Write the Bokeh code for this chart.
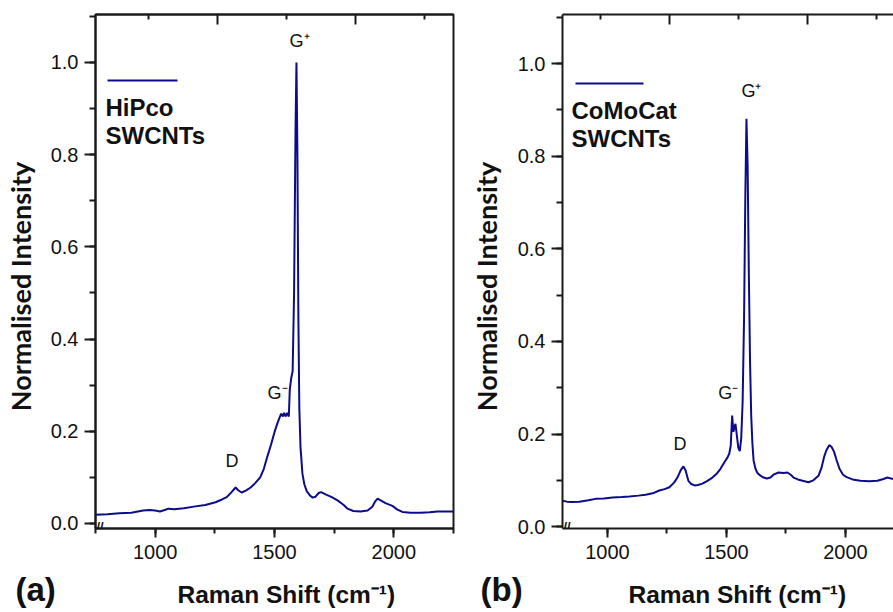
import math
from bokeh.plotting import figure
from bokeh.layouts import row, column
from bokeh.models import (Range1d, LinearAxis, SingleIntervalTicker, FixedTicker,
                          NumeralTickFormatter, Label, BoxAnnotation, CustomJSTickFormatter)
from bokeh.embed import file_html
from bokeh.resources import INLINE

# ---------------- data ----------------
hipco_shift = [750, 800, 850, 900, 950, 975, 1000, 1020, 1040, 1056, 1080, 1120, 1169, 1210,
               1253, 1280, 1300, 1320, 1337, 1348, 1362, 1380, 1400, 1420, 1440, 1455, 1470,
               1485, 1500, 1512, 1520, 1528, 1535, 1540, 1547, 1553, 1560, 1564, 1570, 1576,
               1582, 1588, 1592, 1596, 1600, 1604, 1609, 1617, 1625, 1635, 1650, 1660, 1672,
               1685, 1695, 1714, 1740, 1764, 1790, 1806, 1830, 1860, 1890, 1910, 1922, 1932,
               1945, 1965, 1994, 2015, 2036, 2070, 2112, 2150, 2183, 2250]
hipco_int = [0.019, 0.020, 0.022, 0.023, 0.028, 0.029, 0.028, 0.026, 0.029, 0.032, 0.031, 0.033,
             0.037, 0.040, 0.046, 0.052, 0.057, 0.068, 0.078, 0.072, 0.067, 0.071, 0.078, 0.088,
             0.100, 0.118, 0.145, 0.170, 0.198, 0.217, 0.228, 0.238, 0.232, 0.240, 0.232, 0.240,
             0.232, 0.290, 0.315, 0.330, 0.500, 0.850, 1.000, 0.800, 0.450, 0.250, 0.165, 0.108,
             0.085, 0.070, 0.060, 0.056, 0.058, 0.066, 0.068, 0.063, 0.057, 0.050, 0.040, 0.032,
             0.027, 0.026, 0.028, 0.036, 0.048, 0.054, 0.050, 0.044, 0.038, 0.030, 0.025, 0.023,
             0.023, 0.024, 0.026, 0.026]

comocat_shift = [811, 830, 850, 882, 920, 950, 985, 1021, 1060, 1092, 1130, 1160, 1190, 1218,
                 1240, 1260, 1280, 1294, 1308, 1319, 1328, 1340, 1352, 1366, 1380, 1399, 1420,
                 1441, 1460, 1475, 1490, 1504, 1512, 1518, 1524, 1529, 1534, 1538, 1543, 1550,
                 1556, 1562, 1568, 1574, 1579, 1584, 1589, 1594, 1599, 1604, 1609, 1614, 1622,
                 1630, 1643, 1656, 1670, 1685, 1700, 1719, 1740, 1756, 1770, 1782, 1800, 1820,
                 1845, 1865, 1887, 1900, 1910, 1920, 1932, 1942, 1952, 1962, 1975, 1990, 2005,
                 2030, 2063, 2100, 2134, 2160, 2176, 2200]
comocat_int = [0.056, 0.054, 0.053, 0.054, 0.057, 0.060, 0.061, 0.063, 0.064, 0.065, 0.067, 0.069,
               0.072, 0.078, 0.081, 0.085, 0.095, 0.106, 0.122, 0.130, 0.122, 0.099, 0.092, 0.089,
               0.090, 0.093, 0.099, 0.106, 0.115, 0.125, 0.138, 0.149, 0.158, 0.175, 0.240, 0.205,
               0.215, 0.222, 0.200, 0.170, 0.163, 0.190, 0.270, 0.450, 0.700, 0.881, 0.780, 0.550,
               0.360, 0.240, 0.180, 0.143, 0.125, 0.116, 0.110, 0.106, 0.104, 0.106, 0.113, 0.117,
               0.116, 0.117, 0.112, 0.106, 0.102, 0.099, 0.096, 0.100, 0.110, 0.128, 0.150, 0.165,
               0.176, 0.172, 0.162, 0.145, 0.125, 0.112, 0.107, 0.102, 0.099, 0.098, 0.099, 0.103,
               0.106, 0.103]

top_major_ticks = [1260, 1840]
top_minor_ticks = [970, 1550, 2130]

LINE = "#0c0c8a"
AX = "#1a1a1a"
TXT = "#111111"
SANS = "Liberation Sans"
X_TITLE = "Raman Shift (cm⁻¹)"
Y_TITLE = "Normalised Intensity"

PLOT_H = 570
BAND_H = 612 - PLOT_H
FRAME_TOP, FRAME_BOTTOM = 14, 528


def make_panel(width, border_left, border_right, xr, yr, xs, ys, outline):
    p = figure(width=width, height=PLOT_H, output_backend="svg", toolbar_location=None,
               x_range=Range1d(*xr), y_range=Range1d(*yr),
               min_border_left=border_left, min_border_right=border_right,
               min_border_top=FRAME_TOP, min_border_bottom=PLOT_H - FRAME_BOTTOM,
               x_axis_location=None, y_axis_location=None)
    p.grid.visible = False
    p.outline_line_color = AX if outline else None
    p.outline_line_width = 2
    p.border_fill_color = "white"

    bottom = LinearAxis(ticker=SingleIntervalTicker(interval=500, num_minor_ticks=2))
    left = LinearAxis(ticker=SingleIntervalTicker(interval=0.2, num_minor_ticks=2),
                      formatter=NumeralTickFormatter(format="0.0"))
    top = LinearAxis(ticker=FixedTicker(ticks=top_major_ticks, minor_ticks=top_minor_ticks),
                     formatter=CustomJSTickFormatter(code="return ''"))
    for ax in (bottom, left, top):
        ax.axis_line_color = AX
        ax.axis_line_width = 2
        ax.major_tick_line_color = AX
        ax.minor_tick_line_color = AX
        ax.major_tick_line_width = 2
        ax.minor_tick_line_width = 2
        ax.major_label_text_font = SANS
        ax.major_label_text_font_size = "20px"
        ax.major_label_text_color = TXT
    bottom.major_tick_in = 0
    bottom.major_tick_out = 9
    bottom.minor_tick_in = 0
    bottom.minor_tick_out = 5
    bottom.major_label_standoff = 7
    left.major_tick_in = 0
    left.major_tick_out = 11
    left.minor_tick_in = 0
    left.minor_tick_out = 6
    left.major_label_standoff = 6
    top.major_tick_in = 10
    top.major_tick_out = 0
    top.minor_tick_in = 5
    top.minor_tick_out = 0
    top.major_label_standoff = 0
    top.major_label_text_font_size = "1px"
    p.add_layout(bottom, "below")
    p.add_layout(left, "left")
    p.add_layout(top, "above")

    p.line(xs, ys, line_color=LINE, line_width=2)
    return p


def blank(width, height, xr, yr):
    f = figure(width=width, height=height, output_backend="svg", toolbar_location=None,
               x_range=Range1d(*xr), y_range=Range1d(*yr),
               min_border=0, min_border_left=0, min_border_right=0,
               min_border_top=0, min_border_bottom=0,
               x_axis_location=None, y_axis_location=None)
    f.grid.visible = False
    f.outline_line_color = None
    return f


def lab(p, x, y, text, size, bold=False, units="screen", align="left", baseline="alphabetic",
        angle=0.0, font=SANS):
    p.add_layout(Label(x=x, y=y, x_units=units, y_units=units, text=text,
                       text_font=font, text_font_size=f"{size}px",
                       text_font_style="bold" if bold else "normal",
                       text_color=TXT, text_align=align, text_baseline=baseline,
                       angle=angle))


def legend_line(p, x0, x1, y):
    p.add_layout(BoxAnnotation(left=x0, right=x1, bottom=y - 1, top=y + 1,
                               left_units="screen", right_units="screen",
                               bottom_units="screen", top_units="screen",
                               fill_color=LINE, fill_alpha=1, line_color=None))


# ---------------- panel (a) ----------------
pa = make_panel(416, 51, 7, (750, 2250), (-0.011, 1.104), hipco_shift, hipco_int, True)
legend_line(pa, 12, 82, 448)
lab(pa, 10, 421, "HiPco", 24, bold=True)
lab(pa, 10, 393, "SWCNTs", 24, bold=True)
lab(pa, 1295, 0.136, "D", 18, units="data")
lab(pa, 1471, 0.284, "G⁻", 18, units="data")
lab(pa, 1563, 1.047, "G⁺", 18, units="data")
lab(pa, 1, 2, "//", 13, bold=True)

# ---------------- panel (b) ----------------
pb = make_panel(383, 52, 0, (811, 2202), (-0.004, 1.106), comocat_shift, comocat_int, False)
legend_line(pb, 13, 81, 445)
lab(pb, 9, 418, "CoMoCat", 24, bold=True)
lab(pb, 9, 390, "SWCNTs", 24, bold=True)
lab(pb, 1277, 0.179, "D", 18, units="data")
lab(pb, 1466, 0.289, "G⁻", 18, units="data")
lab(pb, 1563, 0.941, "G⁺", 18, units="data")
lab(pb, 1, 2, "//", 13, bold=True)

# ---------------- y titles (strips left of each panel) ----------------
ta = blank(44, PLOT_H, (0, 44), (FRAME_BOTTOM, FRAME_TOP))
lab(ta, 20, 286, Y_TITLE, 27, bold=True, units="data", align="center", baseline="middle",
    angle=math.pi / 2, font="Lato")
tb = blank(50, PLOT_H, (460, 510), (FRAME_BOTTOM, FRAME_TOP))
lab(tb, 486, 286, Y_TITLE, 27, bold=True, units="data", align="center", baseline="middle",
    angle=math.pi / 2, font="Lato")

# ---------------- bottom band: panel letters and x titles ----------------
band = blank(893, BAND_H, (0, 893), (612, PLOT_H))
lab(band, 15, 589, "(a)", 33, bold=True, units="data")
lab(band, 177, 594, X_TITLE, 24.5, bold=True, units="data")
lab(band, 480, 589, "(b)", 33, bold=True, units="data")
lab(band, 628, 594, X_TITLE, 24.5, bold=True, units="data")

layout = column(row(ta, pa, tb, pb, spacing=0), band, spacing=0)
open("out.html", "w").write(file_html(layout, INLINE))
